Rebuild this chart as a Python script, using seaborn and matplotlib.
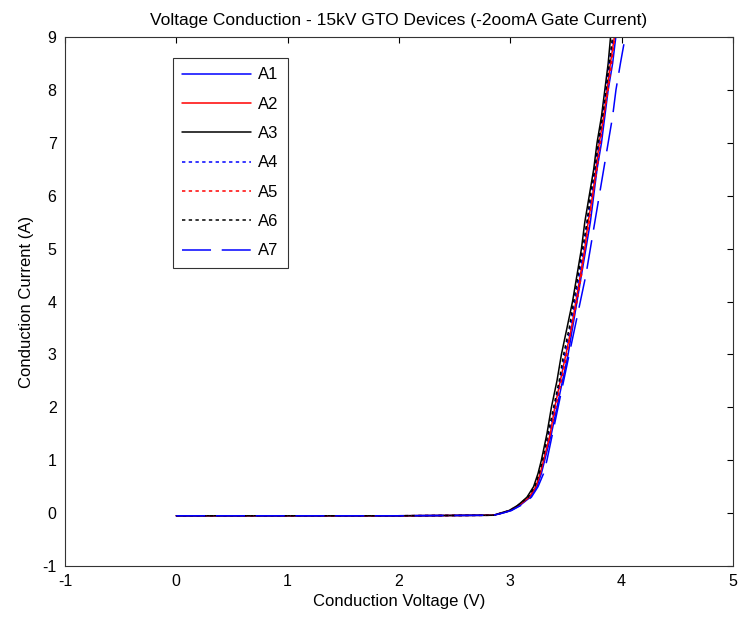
import matplotlib
matplotlib.use("Agg")
import matplotlib.pyplot as plt
import seaborn as sns
import pandas as pd

sns.set_theme(style="white")
plt.rcParams['font.family'] = ['Liberation Sans', 'DejaVu Sans']
plt.rcParams['axes.unicode_minus'] = False
plt.rcParams['text.color'] = 'black'
plt.rcParams['axes.labelcolor'] = 'black'
plt.rcParams['xtick.color'] = 'black'
plt.rcParams['ytick.color'] = 'black'

devices = ["A1", "A2", "A3", "A4", "A5", "A6", "A7"]
colors = ["#0000ff", "#ff0000", "#000000", "#0000ff", "#ff0000", "#000000", "#0000ff"]
styles = ["-", "-", "-", (0, (2.2, 2.2)), (0, (2.2, 2.2)), (0, (2.2, 2.2)), (0, (19, 7))]

current = [-0.05, -0.05, -0.04, 0.0, 0.05, 0.15, 0.3, 0.5, 0.75, 1.0, 1.5, 2.0, 2.5,
           3.0, 3.5, 4.0, 4.5, 5.0, 5.5, 6.0, 6.5, 7.0, 7.5, 8.0, 8.5, 9.2]

voltage = {
    "A1": [0.0, 2.0, 2.85, 2.93, 3.01, 3.09, 3.18, 3.24, 3.28, 3.31, 3.37, 3.42, 3.47,
           3.52, 3.56, 3.60, 3.64, 3.68, 3.72, 3.75, 3.78, 3.82, 3.85, 3.88, 3.92, 3.96],
    "A2": [0.0, 2.0, 2.85, 2.92, 3.00, 3.08, 3.17, 3.23, 3.27, 3.30, 3.36, 3.40, 3.45,
           3.50, 3.55, 3.59, 3.63, 3.67, 3.70, 3.74, 3.77, 3.80, 3.84, 3.87, 3.90, 3.95],
    "A3": [0.0, 2.0, 2.85, 2.91, 2.99, 3.07, 3.15, 3.21, 3.25, 3.28, 3.33, 3.37, 3.42,
           3.46, 3.51, 3.56, 3.60, 3.64, 3.67, 3.71, 3.75, 3.78, 3.82, 3.85, 3.88, 3.91],
    "A4": [0.0, 2.0, 2.85, 2.92, 3.00, 3.08, 3.17, 3.23, 3.27, 3.30, 3.35, 3.40, 3.45,
           3.49, 3.54, 3.58, 3.62, 3.66, 3.69, 3.73, 3.76, 3.80, 3.83, 3.86, 3.89, 3.94],
    "A5": [0.0, 2.0, 2.85, 2.92, 3.00, 3.08, 3.17, 3.23, 3.27, 3.30, 3.36, 3.41, 3.46,
           3.51, 3.55, 3.60, 3.64, 3.67, 3.71, 3.74, 3.78, 3.81, 3.84, 3.88, 3.91, 3.95],
    "A6": [0.0, 2.0, 2.85, 2.92, 3.00, 3.07, 3.16, 3.22, 3.26, 3.29, 3.34, 3.39, 3.44,
           3.48, 3.53, 3.57, 3.61, 3.65, 3.69, 3.72, 3.76, 3.79, 3.83, 3.86, 3.89, 3.93],
    "A7": [0.0, 2.0, 2.85, 2.93, 3.01, 3.10, 3.19, 3.25, 3.30, 3.33, 3.38, 3.43, 3.48,
           3.53, 3.58, 3.63, 3.68, 3.72, 3.76, 3.80, 3.84, 3.88, 3.92, 3.95, 3.99, 4.05],
}

rows = []
for d in devices:
    for i, (v, c) in enumerate(zip(voltage[d], current)):
        rows.append({"device": d, "order": i, "V": v, "I": c})
df = pd.DataFrame(rows)

fig = plt.figure(figsize=(7.38, 6.22), dpi=100)
ax = fig.add_axes([0.088, 0.09, 0.905, 0.8505])

for d, col, ls in zip(devices, colors, styles):
    sub = df[df["device"] == d]
    sns.lineplot(data=sub, x="V", y="I", ax=ax, color=col, linestyle=ls,
                 linewidth=1.1, sort=False, estimator=None, label=d)

ax.set_xlim(-1, 5)
ax.set_ylim(-1, 9)
ax.set_xticks(range(-1, 6))
ax.set_yticks(range(-1, 10))
ax.tick_params(direction="in", top=True, right=True, labelsize=11.5, length=4,
               color="black", width=0.8, pad=6)
for s in ax.spines.values():
    s.set_color("#333333")
    s.set_linewidth(0.8)
ax.set_xlabel("Conduction Voltage (V)", fontsize=12, labelpad=3)
ax.set_ylabel("Conduction Current (A)", fontsize=12, labelpad=6)
ax.set_title("Voltage Conduction - 15kV GTO Devices (-2oomA Gate Current)", fontsize=12.5, pad=9)

leg = ax.legend(loc="upper left", bbox_to_anchor=(0.162, 0.960), borderaxespad=0,
                fontsize=12, frameon=True, fancybox=False, handlelength=4.1,
                handletextpad=0.45, labelspacing=0.86, borderpad=0.55)
leg.get_frame().set_edgecolor("black")
leg.get_frame().set_linewidth(0.8)

fig.savefig("out.png", dpi=100)
